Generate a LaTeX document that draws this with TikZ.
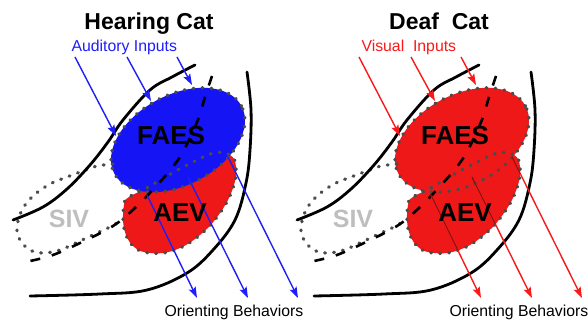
\documentclass[tikz,border=0pt]{standalone}
\usepackage{fontspec}
\setmainfont{Liberation Sans}
\usetikzlibrary{arrows.meta}

\definecolor{faesblue}{RGB}{20,20,245}
\definecolor{aevred}{RGB}{238,24,24}
\definecolor{inblue}{RGB}{30,30,250}
\definecolor{inred}{RGB}{250,25,25}
\definecolor{dotgray}{RGB}{75,75,75}
\definecolor{sivgray}{RGB}{190,190,190}
\definecolor{deepred}{RGB}{120,20,20}

\tikzset{
  sulcus/.style={line width=2.8pt, line cap=round, black},
  fundus/.style={line width=2.6pt, dash pattern=on 10pt off 12pt, black},
  dotline/.style={line width=3.3pt, line cap=round, dash pattern=on 0.8pt off 8.2pt, dotgray},
  pathway/.style={line width=1.4pt, -{Stealth[length=11pt,width=7.5pt,inset=2pt]}},
  headline/.style={font=\fontsize{23}{23}\selectfont\bfseries, anchor=base},
  regionname/.style={font=\fontsize{26}{26}\selectfont\bfseries, anchor=base},
  smalltext/.style={font=\fontsize{15.8}{16}\selectfont, anchor=base},
}

% outlines of the two cortical fields
\newcommand\faesshape{[rotate around={28:(178,140)}] (178,140) ellipse [x radius=72pt, y radius=45pt]}
\newcommand\aevshape{plot[smooth cycle, tension=0.7] coordinates {(124,205) (124,228) (133,246) (150,253) (175,250) (200,235) (220,213) (233,188) (236,167) (230,155) (214,153) (193,162) (167,176) (145,189) (129,197)}}

% one hemisphere: #1 fill of FAES, #2 colour of the pathways
\newcommand\cortexpanel[2]{
  \fill[aevred] \aevshape;
  \fill[#1] \faesshape;
  \draw[dotline] \aevshape;
  \draw[dotline] \faesshape;
  % SIV outline
  \draw[dotline] plot[smooth, tension=0.6] coordinates {(113,164) (97,166) (83,171) (67,177) (50,184) (33,196) (22,210) (17,227) (20,240) (30,250) (43,253) (60,250) (80,241) (97,233) (110,227) (122,220)};
  % sulci
  \draw[sulcus] plot[smooth, tension=0.6] coordinates {(195,65) (172,77) (150,90) (123,120) (108,142) (90,165) (67,189) (43,207) (13,220)};
  \draw[sulcus] plot[smooth, tension=0.6] coordinates {(247,72) (251,110) (250,150) (246,183) (235,220) (213,250) (187,273) (147,290) (100,294) (30,296)};
  \draw[fundus] plot[smooth, tension=0.6] coordinates {(212,76) (205,97) (199,117) (189,140) (178,160) (160,182) (135,208) (113,226) (80,243) (50,256) (20,263)};
  % converging inputs
  \coordinate (i1s) at (75,57);  \coordinate (i1e) at (116,136);
  \coordinate (i2s) at (127,57); \coordinate (i2e) at (151,101);
  \coordinate (i3s) at (177,57); \coordinate (i3e) at (192,85);
  \draw[pathway, #2] (i1s) -- (i1e);
  \draw[pathway, #2] (i2s) -- (i2e);
  \draw[pathway, #2] (i3s) -- (i3e);
  % descending outputs
  \coordinate (o1s) at (147,195); \coordinate (o1e) at (197,298);
  \coordinate (o2s) at (188,177); \coordinate (o2e) at (248,298);
  \coordinate (o3s) at (228,157); \coordinate (o3e) at (298,298);
  \draw[pathway, #2] (o1s) -- (o1e);
  \draw[pathway, #2] (o2s) -- (o2e);
  \draw[pathway, #2] (o3s) -- (o3e);
}

\begin{document}
\begin{tikzpicture}[x=1pt, y=-1pt]
\useasboundingbox (0,0) rectangle (588,320);

% hearing cat
\cortexpanel{faesblue}{inblue}
\node[headline] (t1) at (149,30) {Hearing Cat};
\node[smalltext, anchor=base west, inblue] (in1) at (68,52) {Auditory Inputs};
\node[regionname] (f1) at (171,145) {FAES};
\node[regionname] (a1) at (180,222) {AEV};
\node[regionname, sivgray, font=\fontsize{25}{25}\selectfont\bfseries] (s1) at (69,227) {SIV};
\node[smalltext, anchor=base west] (ob1) at (161,316) {Orienting Behaviors};

% deaf cat
\begin{scope}[xshift=284pt]
\cortexpanel{aevred}{inred}
% output fibres seen through the red fields
\begin{scope}
  \clip \faesshape;
  \draw[line width=0.9pt, deepred] (o1s) -- (o1e) (o2s) -- (o2e) (o3s) -- (o3e);
\end{scope}
\begin{scope}
  \clip \aevshape;
  \draw[line width=0.9pt, deepred] (o1s) -- (o1e) (o2s) -- (o2e) (o3s) -- (o3e);
\end{scope}
\node[regionname] (f2) at (171,145) {FAES};
\node[regionname] (a2) at (181,222) {AEV};
\node[regionname, sivgray, font=\fontsize{25}{25}\selectfont\bfseries] (s2) at (69,227) {SIV};
\end{scope}
\node[headline] (t2) at (439,30) {Deaf~~Cat};
\node[smalltext, anchor=base west, inred] (in2) at (358,52) {Visual~~Inputs};
\node[smalltext, anchor=base west] (ob2) at (446,316) {Orienting Behaviors};
\end{tikzpicture}
\end{document}
